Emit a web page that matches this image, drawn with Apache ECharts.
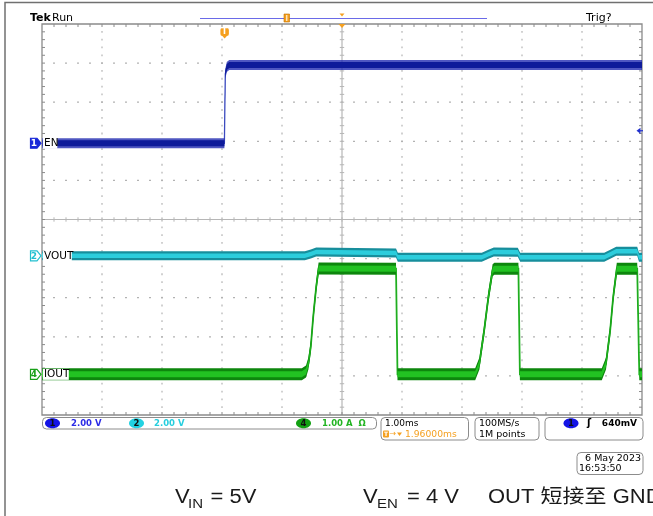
<!DOCTYPE html>
<html>
<head>
<meta charset="utf-8">
<script src="https://cdn.jsdelivr.net/npm/echarts/dist/echarts.min.js"></script>
<style>
  html, body { margin: 0; padding: 0; background: #ffffff; }
  #scope { width: 653px; height: 516px; }
</style>
</head>
<body>
<div id="scope"></div>
<script>
// ---- Acquisition settings ----
const TIME_PER_DIV = 1.00;   // ms/div
const TRIG_DELAY = 1.96;     // ms, trigger to screen centre
const DIVS_X = 10;
const DIVS_Y = 10;

// ---- Channel 1: EN (V), time in ms from trigger ----
const EN_T = [-3.04, 0.00, 0.015, 0.04, 0.08, 6.96];
const EN_V = [0.00, 0.00, 3.55, 3.90, 4.00, 4.00];

// ---- Channel 2: VOUT (V) ----
const VOUT_T = [-3.04, 1.34, 1.44, 1.53, 2.86, 2.89, 4.29, 4.40, 4.49, 4.89, 4.93, 6.33, 6.44, 6.53, 6.88, 6.91, 6.96];
const VOUT_V = [0.00, 0.00, 0.10, 0.20, 0.15, -0.07, -0.07, 0.08, 0.20, 0.19, -0.07, -0.07, 0.10, 0.24, 0.23, -0.07, -0.07];

// ---- Channel 4: IOUT (A) ----
const IOUT_T = [-3.04, 1.29, 1.36, 1.40, 1.44, 1.48, 1.53, 1.57, 2.86, 2.885, 4.18, 4.25, 4.33, 4.40, 4.47, 4.50, 4.90, 4.925, 6.29, 6.36, 6.43, 6.48, 6.54, 6.88, 6.915, 6.96];
const IOUT_A = [0.00, 0.00, 0.07, 0.28, 0.71, 1.47, 2.24, 2.71, 2.70, 0.00, 0.00, 0.28, 1.13, 1.98, 2.66, 2.70, 2.70, 0.00, 0.00, 0.28, 1.13, 1.98, 2.70, 2.70, 0.00, 0.00];

// ---- Vertical settings: scale per div and ground position (div above centre) ----
const CH_SCALE = [2.00, 2.00, 1.00];
const CH_GROUND = [1.95, -0.93, -3.96];
const TRIG_LEVEL = 0.64;     // V on channel 1

// ---- Readout texts ----
const SCALE_TEXT = ['2.00 V', '2.00 V', '1.00 A'];
const HORIZ_TEXT = ['1.00ms', '1.96000ms'];
const ACQ_TEXT = ['100MS/s', '1M points'];
const TRIG_TEXT = '640mV';
const DATE_TEXT = ['6 May 2023', '16:53:50'];

const LAYOUT = { left: 42, top: 24, width: 600, height: 391 };
const ORANGE = '#f5a020';
const MONO = 'DejaVu Sans';

// A trace is drawn as a persistence band of fixed vertical height around the
// waveform (so steep edges come out thin), over a thin line for the edges.
function traceSeries(T, V, yIdx, style, z) {
  const pts = T.map(function (t, i) { return [t, V[i]]; });
  return {
    type: 'custom', xAxisIndex: 0, yAxisIndex: yIdx, clip: true, silent: true, z: z,
    data: pts,
    renderItem: function (params, api) {
      if (params.dataIndex !== 0) return null;
      const px = pts.map(function (p) { return api.coord(p); });
      const band = function (h) {
        const up = px.map(function (p) { return [p[0], p[1] - h]; });
        const dn = px.map(function (p) { return [p[0], p[1] + h]; }).reverse();
        return { points: up.concat(dn) };
      };
      return {
        type: 'group', children: [
          { type: 'polyline', shape: { points: px }, style: { fill: 'none', stroke: style.edgeThin, lineWidth: style.thin } },
          { type: 'polygon', shape: band(style.band / 2), style: { fill: style.edge } },
          { type: 'polygon', shape: band(style.core / 2), style: { fill: style.fill } }
        ]
      };
    }
  };
}

// Graticule: dotted divisions, centre cross with minor ticks, framed border.
function renderGraticule(params, api) {
  const kids = [];
  const tl = api.coord([0, DIVS_Y / 2]);
  const br = api.coord([DIVS_X, -DIVS_Y / 2]);
  const x0 = tl[0], y0 = tl[1], x1 = br[0], y1 = br[1];
  const dx = (x1 - x0) / DIVS_X, dy = (y1 - y0) / DIVS_Y;
  const dot = '#b2b2b2', frame = '#8a8a8a', cross = '#b6b6b6';
  for (let i = 1; i < DIVS_X; i++) {
    if (i === DIVS_X / 2) continue;
    const x = x0 + i * dx;
    for (let k = 1; k < DIVS_Y * 5; k++) {
      const y = y0 + k * dy / 5;
      kids.push({ type: 'rect', shape: { x: x - 0.6, y: y - 0.9, width: 1.2, height: 1.8 }, style: { fill: dot } });
    }
  }
  for (let j = 1; j < DIVS_Y; j++) {
    if (j === DIVS_Y / 2) continue;
    const y = y0 + j * dy;
    for (let k = 1; k < DIVS_X * 5; k++) {
      const x = x0 + k * dx / 5;
      kids.push({ type: 'rect', shape: { x: x - 1, y: y - 0.6, width: 2, height: 1.2 }, style: { fill: dot } });
    }
  }
  const cx = x0 + dx * DIVS_X / 2, cy = y0 + dy * DIVS_Y / 2;
  kids.push({ type: 'line', shape: { x1: cx, y1: y0, x2: cx, y2: y1 }, style: { stroke: cross, lineWidth: 1.2 } });
  kids.push({ type: 'line', shape: { x1: x0, y1: cy, x2: x1, y2: cy }, style: { stroke: cross, lineWidth: 1.2 } });
  for (let k = 1; k < DIVS_X * 5; k++) {
    const x = x0 + k * dx / 5;
    kids.push({ type: 'line', shape: { x1: x, y1: cy - 2.2, x2: x, y2: cy + 2.2 }, style: { stroke: cross, lineWidth: 1 } });
    kids.push({ type: 'line', shape: { x1: x, y1: y0, x2: x, y2: y0 + 3 }, style: { stroke: frame, lineWidth: 1 } });
    kids.push({ type: 'line', shape: { x1: x, y1: y1, x2: x, y2: y1 - 3 }, style: { stroke: frame, lineWidth: 1 } });
  }
  for (let k = 1; k < DIVS_Y * 5; k++) {
    const y = y0 + k * dy / 5;
    kids.push({ type: 'line', shape: { x1: cx - 2.2, y1: y, x2: cx + 2.2, y2: y }, style: { stroke: cross, lineWidth: 1 } });
    kids.push({ type: 'line', shape: { x1: x0, y1: y, x2: x0 + 3, y2: y }, style: { stroke: frame, lineWidth: 1 } });
    kids.push({ type: 'line', shape: { x1: x1, y1: y, x2: x1 - 3, y2: y }, style: { stroke: frame, lineWidth: 1 } });
  }
  kids.push({ type: 'rect', shape: { x: x0, y: y0, width: x1 - x0, height: y1 - y0 }, style: { fill: 'none', stroke: frame, lineWidth: 1.3 } });
  return { type: 'group', children: kids };
}

function chAxis(i) {
  const s = CH_SCALE[i], g = CH_GROUND[i];
  return { type: 'value', show: false, min: (-DIVS_Y / 2 - g) * s, max: (DIVS_Y / 2 - g) * s };
}

const chart = echarts.init(document.getElementById('scope'), null, { renderer: 'canvas', width: 653, height: 516 });

chart.setOption({
  animation: false,
  backgroundColor: '#ffffff',
  grid: LAYOUT,
  xAxis: [
    { type: 'value', show: false, min: TRIG_DELAY - DIVS_X / 2 * TIME_PER_DIV, max: TRIG_DELAY + DIVS_X / 2 * TIME_PER_DIV },
    { type: 'value', show: false, min: 0, max: DIVS_X }
  ],
  yAxis: [
    { type: 'value', show: false, min: -DIVS_Y / 2, max: DIVS_Y / 2 },
    chAxis(0), chAxis(1), chAxis(2)
  ],
  series: [
    { type: 'custom', xAxisIndex: 1, yAxisIndex: 0, silent: true, z: 1, data: [[0, 0]], renderItem: renderGraticule },
    traceSeries(IOUT_T, IOUT_A, 3, { band: 12, core: 6, thin: 1.8, edge: '#0d860d', fill: '#22c222', edgeThin: '#26b426' }, 3),
    traceSeries(VOUT_T, VOUT_V, 2, { band: 9, core: 4.5, thin: 1.4, edge: '#178e9c', fill: '#2ccddc', edgeThin: '#2ab8c8' }, 4),
    traceSeries(EN_T, EN_V, 1, { band: 10, core: 6, thin: 1.3, edge: 'rgba(30,40,175,0.78)', fill: '#0e1b9a', edgeThin: '#4454c4' }, 5)
  ]
});

// ---- Annotations anchored to the channel grounds ----
function gnd(i) { return chart.convertToPixel({ xAxisIndex: 0, yAxisIndex: i + 1 }, [0, 0])[1]; }
const y1 = gnd(0), y2 = gnd(1), y4 = gnd(2);
const xl = LAYOUT.left, yt = LAYOUT.top, yb = LAYOUT.top + LAYOUT.height;
const xTrig = chart.convertToPixel({ xAxisIndex: 0, yAxisIndex: 1 }, [0, 0])[0];
const yTrigLvl = chart.convertToPixel({ xAxisIndex: 0, yAxisIndex: 1 }, [0, TRIG_LEVEL])[1];
const xc = xl + LAYOUT.width / 2;

function txt(x, y, s, font, fill, align, extra) {
  return Object.assign({ type: 'text', z: 50, x: x, y: y, style: { text: s, font: font, fill: fill, textAlign: align || 'left', textVerticalAlign: 'middle' } }, extra || {});
}
function marker(y, num, color, filled) {
  return [
    { type: 'polygon', z: 50, shape: { points: [[30.5, y - 5], [37, y - 5], [41, y], [37, y + 5], [30.5, y + 5]] },
      style: { fill: filled ? color : '#ffffff', stroke: color, lineWidth: 1.2 } },
    txt(34, y + 0.5, num, 'bold 9px ' + MONO, filled ? '#ffffff' : color, 'center')
  ];
}
function label(y, s, w) {
  return [
    { type: 'rect', z: 49, shape: { x: xl + 0.8, y: y - 5.5, width: w, height: 11 }, style: { fill: '#ffffff' } },
    txt(xl + 2, y, s, '10.5px ' + MONO, '#000000')
  ];
}
function box(x, y, w, h) {
  return { type: 'rect', z: 50, shape: { x: x, y: y, width: w, height: h, r: 4 }, style: { fill: '#ffffff', stroke: '#8c8c8c', lineWidth: 1 } };
}
function badge(cx, cy, num, color) {
  return [
    { type: 'ellipse', z: 51, shape: { cx: cx, cy: cy, rx: 7.5, ry: 5 }, style: { fill: color } },
    txt(cx, cy + 0.5, num, 'bold 8.5px ' + MONO, '#101010', 'center', { z: 52 })
  ];
}

const g = [];
// outer frame
g.push({ type: 'polyline', z: 50, shape: { points: [[5, 516], [5, 2.5], [653, 2.5]] }, style: { fill: 'none', stroke: '#707070', lineWidth: 1.5 } });
// header
g.push(txt(30, 18, 'Tek', 'bold 11px ' + MONO, '#000000'));
g.push(txt(52, 18, 'Run', '11px ' + MONO, '#000000'));
g.push(txt(586, 18.5, 'Trig?', '11px ' + MONO, '#000000'));
// record position bar
g.push({ type: 'line', z: 50, shape: { x1: 200, y1: 18.5, x2: 487, y2: 18.5 }, style: { stroke: '#6a6ae8', lineWidth: 1.2 } });
g.push({ type: 'rect', z: 51, shape: { x: 284, y: 14, width: 5.5, height: 8 }, style: { fill: ORANGE, stroke: '#c07000', lineWidth: 0.6 } });
g.push({ type: 'line', z: 52, shape: { x1: 286.8, y1: 15, x2: 286.8, y2: 21 }, style: { stroke: '#ffffff', lineWidth: 1 } });
g.push({ type: 'polygon', z: 51, shape: { points: [[xc - 2.5, 13.5], [xc + 2.5, 13.5], [xc, 16.5]] }, style: { fill: ORANGE } });
// horizontal position marker on the frame
g.push({ type: 'polygon', z: 51, shape: { points: [[xc - 3.5, yt], [xc + 3.5, yt], [xc, yt + 4]] }, style: { fill: ORANGE } });
// trigger point badge
g.push({ type: 'rect', z: 51, shape: { x: xTrig - 4, y: 28, width: 8.5, height: 8, r: 2 }, style: { fill: ORANGE } });
g.push({ type: 'polygon', z: 51, shape: { points: [[xTrig - 2, 36], [xTrig + 2.5, 36], [xTrig + 0.2, 38.5]] }, style: { fill: ORANGE } });
g.push(txt(xTrig + 0.2, 32.3, 'T', 'bold 8px ' + MONO, '#ffffff', 'center', { z: 52 }));
// trigger level arrow
g.push({ type: 'polygon', z: 51, shape: { points: [[636.5, yTrigLvl], [640.5, yTrigLvl - 3], [640.5, yTrigLvl + 3]] }, style: { fill: '#2030d0' } });
g.push({ type: 'line', z: 51, shape: { x1: 640, y1: yTrigLvl, x2: 643, y2: yTrigLvl }, style: { stroke: '#2030d0', lineWidth: 1.2 } });
// channel markers and names
g.push(...marker(y1, '1', '#1a2ad8', true));
g.push(...marker(y2, '2', '#22c0d0', false));
g.push(...marker(y4, '4', '#18a018', false));
g.push(...label(y1, 'EN', 14.5));
g.push(...label(y2, 'VOUT', 29));
g.push(...label(y4, 'IOUT', 26));
// vertical readouts
g.push(box(42.5, yb + 2.5, 334, 11.5));
g.push(...badge(52.5, yb + 8.3, '1', '#1414e6'));
g.push(txt(71, yb + 8.5, SCALE_TEXT[0], 'bold 8.5px ' + MONO, '#2b2be6'));
g.push(...badge(136.5, yb + 8.3, '2', '#22d2e2'));
g.push(txt(154, yb + 8.5, SCALE_TEXT[1], 'bold 8.5px ' + MONO, '#26cede'));
g.push(...badge(303.5, yb + 8.3, '4', '#12a012'));
g.push(txt(322, yb + 8.5, SCALE_TEXT[2] + '  \u03a9', 'bold 8.5px ' + MONO, '#22b422'));
// horizontal readout
g.push(box(381, yb + 2.5, 87.5, 22.5));
g.push(txt(385, yb + 8.5, HORIZ_TEXT[0], '9px ' + MONO, '#000000'));
g.push({ type: 'rect', z: 51, shape: { x: 383, y: yb + 15.5, width: 6, height: 7, r: 1 }, style: { fill: ORANGE } });
g.push(txt(386, yb + 19.3, 'T', 'bold 6px ' + MONO, '#ffffff', 'center', { z: 52 }));
g.push(txt(389.5, yb + 19.3, '\u2192', '8px ' + MONO, ORANGE));
g.push({ type: 'polygon', z: 51, shape: { points: [[397, yb + 17.5], [402, yb + 17.5], [399.5, yb + 21]] }, style: { fill: ORANGE } });
g.push(txt(405, yb + 19.5, HORIZ_TEXT[1], '9.2px ' + MONO, ORANGE));
// acquisition readout
g.push(box(475, yb + 2.5, 64, 22.5));
g.push(txt(479, yb + 8.5, ACQ_TEXT[0], '9.5px ' + MONO, '#000000'));
g.push(txt(479, yb + 19.5, ACQ_TEXT[1], '9.5px ' + MONO, '#000000'));
// trigger readout
g.push(box(545, yb + 2.5, 98, 22.5));
g.push(...badge(571, yb + 8.3, '1', '#1414e6'));
g.push(txt(589, yb + 8.5, '\u0283', 'bold 10px ' + MONO, '#000000', 'center'));
g.push(txt(637, yb + 8.5, TRIG_TEXT, 'bold 9px ' + MONO, '#000000', 'right'));
// date
g.push(box(577, 452.5, 66, 22));
g.push(txt(641, 458.5, DATE_TEXT[0], '9.5px ' + MONO, '#000000', 'right'));
g.push(txt(579, 469, DATE_TEXT[1], '9.5px ' + MONO, '#000000'));
// test conditions
const FAM = '"Liberation Sans", Arial, "Noto Sans CJK SC", sans-serif';
const BIG = '22px ' + FAM;
const SUB = '15px ' + FAM;
const ink = '#1a1a1a';
const squash = { scaleY: 0.9 };
g.push(txt(175, 498, 'V', BIG, ink, 'left', squash));
g.push(txt(188, 504, 'IN', SUB, ink, 'left', squash));
g.push(txt(210.5, 498, '= 5V', BIG, ink, 'left', squash));
g.push(txt(363, 498, 'V', BIG, ink, 'left', squash));
g.push(txt(377, 504, 'EN', SUB, ink, 'left', squash));
g.push(txt(407, 498, '= 4 V', BIG, ink, 'left', squash));
g.push(txt(488, 498, 'OUT \u77ed\u63a5\u81f3 GND', BIG, ink, 'left', squash));

chart.setOption({ graphic: { elements: g } });
</script>
</body>
</html>
